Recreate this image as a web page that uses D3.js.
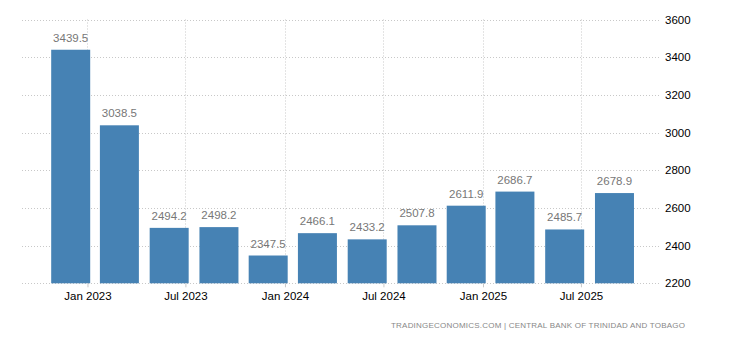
<!DOCTYPE html>
<html>
<head>
<meta charset="utf-8">
<script src="https://cdn.jsdelivr.net/npm/d3@7"></script>
<style>
  body { margin: 0; background: #fff; }
  svg { display: block; font-family: "Liberation Sans", Arial, sans-serif; }
  .grid line { stroke: #c8c8c8; stroke-dasharray: 1,2; }
</style>
</head>
<body>
<script>
// quarterly readings (period dates) and values
var periods = ["2022-12-01", "2023-03-01", "2023-06-01", "2023-09-01",
               "2023-12-01", "2024-03-01", "2024-06-01", "2024-09-01",
               "2024-12-01", "2025-03-01", "2025-06-01", "2025-09-01"];
var values = [3439.5, 3038.5, 2494.2, 2498.2, 2347.5, 2466.1,
              2433.2, 2507.8, 2611.9, 2686.7, 2485.7, 2678.9];
var xTickDates = ["2023-01-01", "2023-07-01", "2024-01-01",
                  "2024-07-01", "2025-01-01", "2025-07-01"];
var yTicks = [2200, 2400, 2600, 2800, 3000, 3200, 3400, 3600];

var parse = d3.timeParse("%Y-%m-%d");
var fmtX = d3.timeFormat("%b %Y");

var width = 730, height = 340;
var plotLeft = 22, plotRight = 661, plotTop = 19.5, plotBottom = 283.3;

var svg = d3.select("body").append("svg")
  .attr("width", width)
  .attr("height", height);

var x = d3.scaleTime()
  .domain([new Date(2022, 8, 2), new Date(2025, 10, 26)])
  .range([plotLeft, plotRight]);
var y = d3.scaleLinear()
  .domain([2200, 3600])
  .range([plotBottom, plotTop]);

var barW = 39;

// horizontal grid
svg.append("g").attr("class", "grid")
  .selectAll("line").data(yTicks).enter().append("line")
  .attr("x1", plotLeft).attr("x2", plotRight)
  .attr("y1", function(d) { return Math.round(y(d)) + 0.5; })
  .attr("y2", function(d) { return Math.round(y(d)) + 0.5; });

// vertical grid
svg.append("g").attr("class", "grid")
  .selectAll("line").data(xTickDates).enter().append("line")
  .attr("x1", function(d) { return Math.round(x(parse(d))) + 0.5; })
  .attr("x2", function(d) { return Math.round(x(parse(d))) + 0.5; })
  .attr("y1", plotTop).attr("y2", plotBottom);

// bars
svg.append("g").selectAll("rect").data(values).enter().append("rect")
  .attr("x", function(d, i) { return x(parse(periods[i])) - barW / 2; })
  .attr("width", barW)
  .attr("y", function(d) { return y(d); })
  .attr("height", function(d) { return plotBottom - y(d); })
  .attr("fill", "#4682b4");

// value labels
svg.append("g").selectAll("text").data(values).enter().append("text")
  .attr("x", function(d, i) { return x(parse(periods[i])); })
  .attr("y", function(d) { return y(d) - 8; })
  .attr("text-anchor", "middle")
  .attr("font-size", "11.5px")
  .attr("fill", "#777")
  .text(function(d) { return d.toFixed(1); });

// x axis
var xAxis = d3.axisBottom(x)
  .tickValues(xTickDates.map(parse))
  .tickFormat(fmtX)
  .tickSize(4)
  .tickPadding(5);
var gx = svg.append("g")
  .attr("transform", "translate(0," + plotBottom + ")")
  .call(xAxis);
gx.select(".domain").remove();
gx.selectAll(".tick line").attr("stroke", "#c8c8c8");
gx.selectAll("text").attr("font-size", "11.5px").attr("fill", "#000")
  .attr("font-family", "Liberation Sans, Arial, sans-serif");

// y axis on right
var yAxis = d3.axisRight(y).tickValues(yTicks).tickFormat(d3.format("d"))
  .tickSize(0).tickPadding(4);
var gy = svg.append("g")
  .attr("transform", "translate(" + plotRight + ",0)")
  .call(yAxis);
gy.select(".domain").remove();
gy.selectAll("text").attr("font-size", "11.5px").attr("fill", "#000")
  .attr("font-family", "Liberation Sans, Arial, sans-serif");

// source
svg.append("text")
  .attr("x", 391).attr("y", 328)
  .attr("textLength", 294)
  .attr("lengthAdjust", "spacing")
  .attr("font-size", "8px")
  .attr("fill", "#888")
  .text("TRADINGECONOMICS.COM  |  CENTRAL BANK OF TRINIDAD AND TOBAGO");
</script>
</body>
</html>
